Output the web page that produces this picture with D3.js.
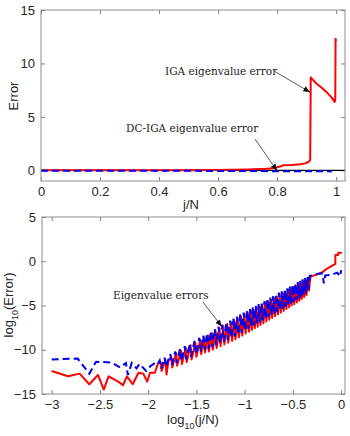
<!DOCTYPE html>
<html>
<head>
<meta charset="utf-8">
<script src="https://cdn.jsdelivr.net/npm/d3@7"></script>
<style>
  body { margin: 0; background: #fff; }
  .tick text { font-family: "Liberation Sans", Arial, sans-serif; font-size: 13px; fill: #262626; }
  .tick line { stroke: #808080; }
  .axisText { font-family: "Liberation Sans", Arial, sans-serif; font-size: 13px; fill: #262626; }
  .note { font-family: "DejaVu Serif", "Liberation Serif", serif; font-size: 10.5px; fill: #222; }
</style>
</head>
<body>
<script>
// Top panel: error vs j/N
var topTicksX = [0, 0.2, 0.4, 0.6, 0.8, 1];
var topTicksY = [0, 5, 10, 15];

var igaError = [
  [0, 0], [0.5, 0.01], [0.6, 0.03], [0.65, 0.05], [0.7, 0.08], [0.74, 0.12], [0.765, 0.15],
  [0.79, 0.22], [0.81, 0.35], [0.82, 0.47], [0.85, 0.5], [0.878, 0.56], [0.895, 0.65],
  [0.906, 0.78], [0.912, 0.95], [0.914, 8.7], [0.93, 8.2], [0.95, 7.75], [0.97, 7.25],
  [0.985, 6.8], [0.995, 6.4], [0.997, 6.6], [0.998, 12.3], [1.0, 12.1]
];
var dcIgaError = [[0, -0.05], [0.5, -0.05], [0.8, -0.08], [0.985, -0.1]];
var zeroLine = [[0, 0], [1.03, 0]];

// Bottom panel: log10(error) vs log10(j/N)
var bottomTicksX = [-3, -2.5, -2, -1.5, -1, -0.5, 0];
var bottomTicksY = [-15, -10, -5, 0, 5];

var igaLogError = [
  [-3.0, -12.4], [-2.83, -13.0], [-2.71, -12.7], [-2.61, -13.9], [-2.52, -12.85], [-2.46, -14.5],
  [-2.41, -13.0], [-2.31, -13.6], [-2.26, -14.0], [-2.22, -13.0], [-2.16, -13.9], [-2.10, -12.6],
  [-2.05, -12.7], [-2.01, -13.6], [-1.98, -12.6], [-1.93, -12.6], [-1.90, -11.6],
  [-1.87, -11.4], [-1.86, -12.4], [-1.82, -11.1], [-1.81, -12.8], [-1.79, -11.3], [-1.76, -10.8],
  [-1.75, -12.0], [-1.71, -10.4], [-1.70, -11.8], [-1.66, -10.1], [-1.65, -11.6], [-1.61, -9.8],
  [-1.60, -11.4], [-1.56, -9.5], [-1.55, -11.1], [-1.51, -9.2], [-1.50, -10.8], [-1.46, -8.9],
  [-1.45, -10.5], [-1.42, -8.6], [-1.41, -10.3], [-1.38, -8.4], [-1.37, -10.2], [-1.34, -8.1],
  [-1.33, -10.0], [-1.30, -7.9], [-1.29, -9.8], [-1.26, -7.6], [-1.25, -9.6], [-1.22, -7.4],
  [-1.21, -9.4], [-1.18, -7.1], [-1.17, -9.2], [-1.14, -6.9], [-1.13, -9.0], [-1.107, -6.7],
  [-1.095, -8.8], [-1.072, -6.45], [-1.06, -8.6], [-1.037, -6.25], [-1.025, -8.4], [-1.002, -6.0],
  [-0.99, -8.15], [-0.967, -5.8], [-0.955, -7.95], [-0.937, -5.6], [-0.925, -7.75], [-0.907, -5.45],
  [-0.895, -7.55], [-0.877, -5.25], [-0.865, -7.4], [-0.847, -5.1], [-0.835, -7.2], [-0.817, -4.9],
  [-0.805, -7.0], [-0.787, -4.7], [-0.775, -6.8], [-0.757, -4.5], [-0.745, -6.6], [-0.727, -4.35],
  [-0.715, -6.4], [-0.697, -4.15], [-0.685, -6.2], [-0.667, -3.95], [-0.655, -6.0], [-0.637, -3.8],
  [-0.625, -5.8], [-0.607, -3.6], [-0.595, -5.6], [-0.578, -3.45], [-0.567, -5.4], [-0.551, -3.25],
  [-0.54, -5.2], [-0.524, -3.1], [-0.513, -5.0], [-0.497, -2.9], [-0.486, -4.85], [-0.47, -2.75],
  [-0.459, -4.65], [-0.443, -2.6], [-0.433, -4.45], [-0.418, -2.4], [-0.408, -4.25], [-0.393, -2.25],
  [-0.383, -4.05], [-0.368, -2.1], [-0.358, -3.8], [-0.343, -1.9], [-0.333, -3.3], [-0.318, -1.75],
  [-0.28, -1.6], [-0.25, -1.5], [-0.22, -1.4], [-0.19, -1.2], [-0.15, -0.85], [-0.11, -0.6],
  [-0.06, -0.3], [-0.06, 0.7], [-0.03, 0.7], [-0.03, 0.95], [0.0, 0.95], [0.0, 1.05]
];

var dcIgaLogError = [
  [-3.0, -11.1], [-2.73, -11.0], [-2.61, -12.7], [-2.54, -11.35], [-2.38, -11.45], [-2.29, -12.0],
  [-2.23, -11.5], [-2.21, -12.85], [-2.17, -11.5], [-2.12, -12.1], [-2.09, -11.6], [-2.02, -12.4],
  [-1.98, -11.9], [-1.93, -11.5], [-1.90, -11.6],
  [-1.88, -11.2], [-1.865, -12.1], [-1.83, -10.9], [-1.815, -11.9], [-1.77, -10.5], [-1.755, -11.7],
  [-1.72, -10.2], [-1.705, -11.5], [-1.67, -9.9], [-1.655, -11.3], [-1.62, -9.6], [-1.605, -11.1],
  [-1.57, -9.3], [-1.555, -10.8], [-1.52, -9.0], [-1.505, -10.5], [-1.47, -8.65], [-1.455, -10.2],
  [-1.43, -8.4], [-1.415, -10.0], [-1.39, -8.15], [-1.375, -9.9], [-1.35, -7.9], [-1.335, -9.7],
  [-1.31, -7.65], [-1.295, -9.5], [-1.27, -7.4], [-1.255, -9.3], [-1.23, -7.15], [-1.215, -9.1],
  [-1.19, -6.9], [-1.175, -8.9], [-1.15, -6.7], [-1.137, -8.7], [-1.115, -6.45], [-1.102, -8.5],
  [-1.08, -6.25], [-1.067, -8.3], [-1.045, -6.0], [-1.032, -8.1], [-1.01, -5.8], [-0.997, -7.85],
  [-0.975, -5.6], [-0.962, -7.65], [-0.945, -5.4], [-0.932, -7.45], [-0.915, -5.2], [-0.902, -7.25],
  [-0.885, -5.05], [-0.872, -7.1], [-0.855, -4.85], [-0.842, -6.9], [-0.825, -4.7], [-0.812, -6.7],
  [-0.795, -4.5], [-0.782, -6.5], [-0.765, -4.3], [-0.752, -6.3], [-0.735, -4.1], [-0.722, -6.1],
  [-0.705, -3.95], [-0.692, -5.95], [-0.675, -3.75], [-0.662, -5.75], [-0.645, -3.55], [-0.632, -5.55],
  [-0.615, -3.4], [-0.602, -5.35], [-0.585, -3.2], [-0.574, -5.15], [-0.558, -3.05], [-0.547, -5.0],
  [-0.531, -2.85], [-0.52, -4.8], [-0.504, -2.7], [-0.493, -4.6], [-0.477, -2.55], [-0.466, -4.4],
  [-0.45, -2.35], [-0.44, -4.2], [-0.425, -2.2], [-0.415, -4.0], [-0.40, -2.05], [-0.39, -3.8],
  [-0.375, -1.9], [-0.365, -3.6], [-0.35, -1.75], [-0.34, -3.2], [-0.325, -1.65], [-0.30, -1.6],
  [-0.27, -1.5], [-0.24, -1.4], [-0.21, -1.35], [-0.19, -1.45], [-0.18, -2.5], [-0.165, -1.6],
  [-0.12, -1.55], [-0.07, -1.4], [-0.04, -1.3], [-0.01, -1.7], [0.0, -1.0]
];

var svgWidth = 350;
var svgHeight = 436;

var svg = d3.select("body")
  .append("svg")
  .attr("width", svgWidth)
  .attr("height", svgHeight);

var defs = svg.append("defs");
defs.append("marker")
  .attr("id", "arrow")
  .attr("viewBox", "0 0 10 10")
  .attr("refX", 10)
  .attr("refY", 5)
  .attr("markerWidth", 7)
  .attr("markerHeight", 7)
  .attr("markerUnits", "userSpaceOnUse")
  .attr("orient", "auto")
  .append("path")
  .attr("d", "M0,1 L10,5 L0,9 Z")
  .attr("fill", "#111");

// draw one framed panel with inward ticks on all sides
function panel(box, xDomain, yDomain, xTicks, yTicks, id) {
  var x = d3.scaleLinear().domain(xDomain).range([box.left, box.right]);
  var y = d3.scaleLinear().domain(yDomain).range([box.bottom, box.top]);

  defs.append("clipPath").attr("id", id)
    .append("rect")
    .attr("x", box.left).attr("y", box.top)
    .attr("width", box.right - box.left).attr("height", box.bottom - box.top);

  svg.append("g")
    .attr("transform", `translate(0, ${box.bottom})`)
    .call(d3.axisBottom(x).tickValues(xTicks).tickFormat(d3.format("")).tickSizeInner(-4).tickSizeOuter(0).tickPadding(6))
    .call(g => g.select(".domain").remove());
  svg.append("g")
    .attr("transform", `translate(0, ${box.top})`)
    .call(d3.axisTop(x).tickValues(xTicks).tickFormat("").tickSizeInner(-4).tickSizeOuter(0))
    .call(g => g.select(".domain").remove());
  svg.append("g")
    .attr("transform", `translate(${box.left}, 0)`)
    .call(d3.axisLeft(y).tickValues(yTicks).tickFormat(d3.format("")).tickSizeInner(-4).tickSizeOuter(0).tickPadding(6))
    .call(g => g.select(".domain").remove());
  svg.append("g")
    .attr("transform", `translate(${box.right}, 0)`)
    .call(d3.axisRight(y).tickValues(yTicks).tickFormat("").tickSizeInner(-4).tickSizeOuter(0))
    .call(g => g.select(".domain").remove());

  var plot = svg.append("g").attr("clip-path", `url(#${id})`);

  svg.append("rect")
    .attr("x", box.left).attr("y", box.top)
    .attr("width", box.right - box.left).attr("height", box.bottom - box.top)
    .attr("fill", "none")
    .attr("stroke", "#8c8c8c")
    .attr("stroke-width", 1);

  return { x: x, y: y, plot: plot };
}

function annotate(text, tx, ty, x1, y1, x2, y2) {
  svg.append("text").attr("class", "note").attr("x", tx).attr("y", ty).text(text);
  svg.append("line")
    .attr("x1", x1).attr("y1", y1).attr("x2", x2).attr("y2", y2)
    .attr("stroke", "#111").attr("stroke-width", 0.7)
    .attr("marker-end", "url(#arrow)");
}

// ---------- top panel ----------
var topPanel = panel({ left: 41, right: 345, top: 10, bottom: 181 }, [0, 1.03], [-1, 15], topTicksX, topTicksY, "clipTop");

var lineTop = d3.line().x(d => topPanel.x(d[0])).y(d => topPanel.y(d[1]));

topPanel.plot.append("path").attr("d", lineTop(zeroLine))
  .attr("fill", "none").attr("stroke", "#000").attr("stroke-width", 1.2);
topPanel.plot.append("path").attr("d", lineTop(igaError))
  .attr("fill", "none").attr("stroke", "#ff0000").attr("stroke-width", 2).attr("stroke-linejoin", "round");
topPanel.plot.append("path").attr("d", lineTop(dcIgaError))
  .attr("fill", "none").attr("stroke", "#0000ee").attr("stroke-width", 2).attr("stroke-dasharray", "7,4");

svg.append("text").attr("class", "axisText")
  .attr("transform", "translate(18, 96) rotate(-90)")
  .attr("text-anchor", "middle").text("Error");
svg.append("text").attr("class", "axisText")
  .attr("x", 191).attr("y", 209).attr("text-anchor", "middle").text("j/N");

annotate("IGA eigenvalue error", 165, 75, 274, 71, topPanel.x(0.912), topPanel.y(7.3));
annotate("DC-IGA eigenvalue error", 126, 132, 255, 139, topPanel.x(0.8), topPanel.y(-0.05));

// ---------- bottom panel ----------
var bottomPanel = panel({ left: 42, right: 345, top: 217, bottom: 394 }, [-3.1, 0.04], [-15, 5], bottomTicksX, bottomTicksY, "clipBottom");

var lineBottom = d3.line().x(d => bottomPanel.x(d[0])).y(d => bottomPanel.y(d[1]));

bottomPanel.plot.append("path").attr("d", lineBottom(igaLogError))
  .attr("fill", "none").attr("stroke", "#ff0000").attr("stroke-width", 2).attr("stroke-linejoin", "round");
bottomPanel.plot.append("path").attr("d", lineBottom(dcIgaLogError))
  .attr("fill", "none").attr("stroke", "#0000ee").attr("stroke-width", 2).attr("stroke-dasharray", "7,4");

var yl = svg.append("text").attr("class", "axisText")
  .attr("transform", "translate(13, 305) rotate(-90)")
  .attr("text-anchor", "middle");
yl.append("tspan").text("log");
yl.append("tspan").attr("baseline-shift", "sub").attr("font-size", "9px").text("10");
yl.append("tspan").text("(Error)");

var xl = svg.append("text").attr("class", "axisText")
  .attr("x", 193).attr("y", 424).attr("text-anchor", "middle");
xl.append("tspan").text("log");
xl.append("tspan").attr("baseline-shift", "sub").attr("font-size", "9px").text("10");
xl.append("tspan").text("(j/N)");

annotate("Eigenvalue errors", 113, 299, 203, 302, bottomPanel.x(-1.236), bottomPanel.y(-7.4));
</script>
</body>
</html>
